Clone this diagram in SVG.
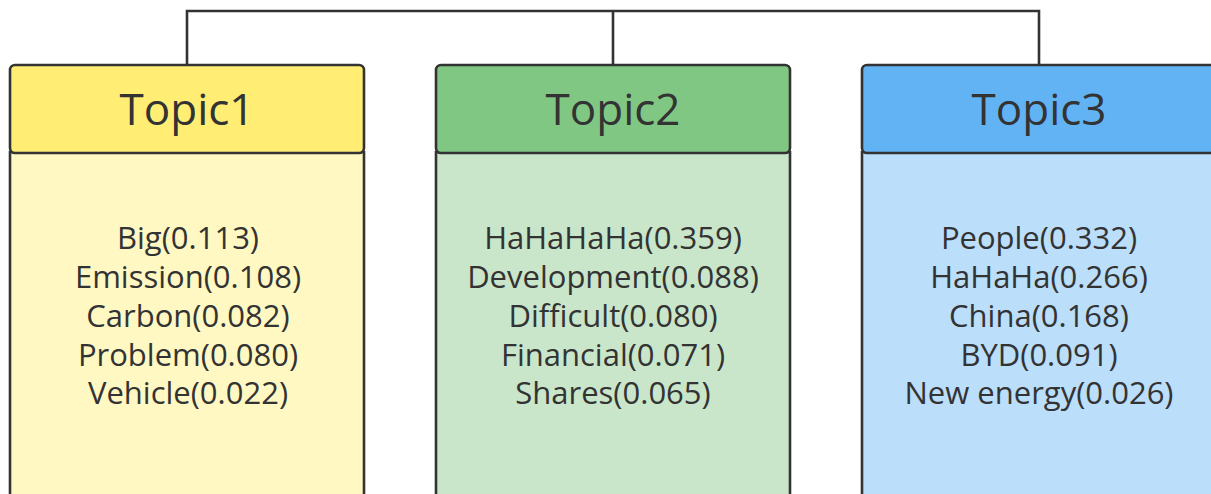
<svg xmlns="http://www.w3.org/2000/svg" width="1211" height="494" viewBox="0 0 1211 494">
<style>
.box{stroke:#333;stroke-width:2.6}
.title{font-family:"Open Sans","Noto Sans",sans-serif;font-size:44px;fill:#333;text-anchor:middle}
.item{font-family:"Open Sans","Noto Sans",sans-serif;font-size:31px;fill:#333;text-anchor:middle}
.conn{fill:none;stroke:#333;stroke-width:2.6}
</style>
<rect width="1211" height="494" fill="#fff"/>
<g id="connectors">
<polyline class="conn" points="187,65 187,11 1039,11 1039,65"/>
<line class="conn" x1="613" y1="11" x2="613" y2="65"/>
</g>
<g id="topic1">
<rect class="box" x="10" y="152" width="354" height="350" fill="#FFF8C3"/>
<rect class="box" x="10" y="65" width="354" height="88" rx="5" fill="#FFED74"/>
<text class="title" x="187" y="125">Topic1</text>
<text class="item" x="188" y="249">Big(0.113)</text>
<text class="item" x="188" y="288">Emission(0.108)</text>
<text class="item" x="188" y="327">Carbon(0.082)</text>
<text class="item" x="188" y="366">Problem(0.080)</text>
<text class="item" x="188" y="404">Vehicle(0.022)</text>
</g>
<g id="topic2">
<rect class="box" x="436" y="152" width="354" height="350" fill="#C9E6CA"/>
<rect class="box" x="436" y="65" width="354" height="88" rx="5" fill="#80C784"/>
<text class="title" x="613" y="125">Topic2</text>
<text class="item" x="613" y="249">HaHaHaHa(0.359)</text>
<text class="item" x="613" y="288">Development(0.088)</text>
<text class="item" x="613" y="327">Difficult(0.080)</text>
<text class="item" x="613" y="366">Financial(0.071)</text>
<text class="item" x="613" y="404">Shares(0.065)</text>
</g>
<g id="topic3">
<rect class="box" x="862" y="152" width="354" height="350" fill="#BBDEFA"/>
<rect class="box" x="862" y="65" width="354" height="88" rx="5" fill="#62B3F4"/>
<text class="title" x="1039" y="125">Topic3</text>
<text class="item" x="1039" y="249">People(0.332)</text>
<text class="item" x="1039" y="288">HaHaHa(0.266)</text>
<text class="item" x="1039" y="327">China(0.168)</text>
<text class="item" x="1039" y="366">BYD(0.091)</text>
<text class="item" x="1039" y="404">New energy(0.026)</text>
</g>
</svg>
